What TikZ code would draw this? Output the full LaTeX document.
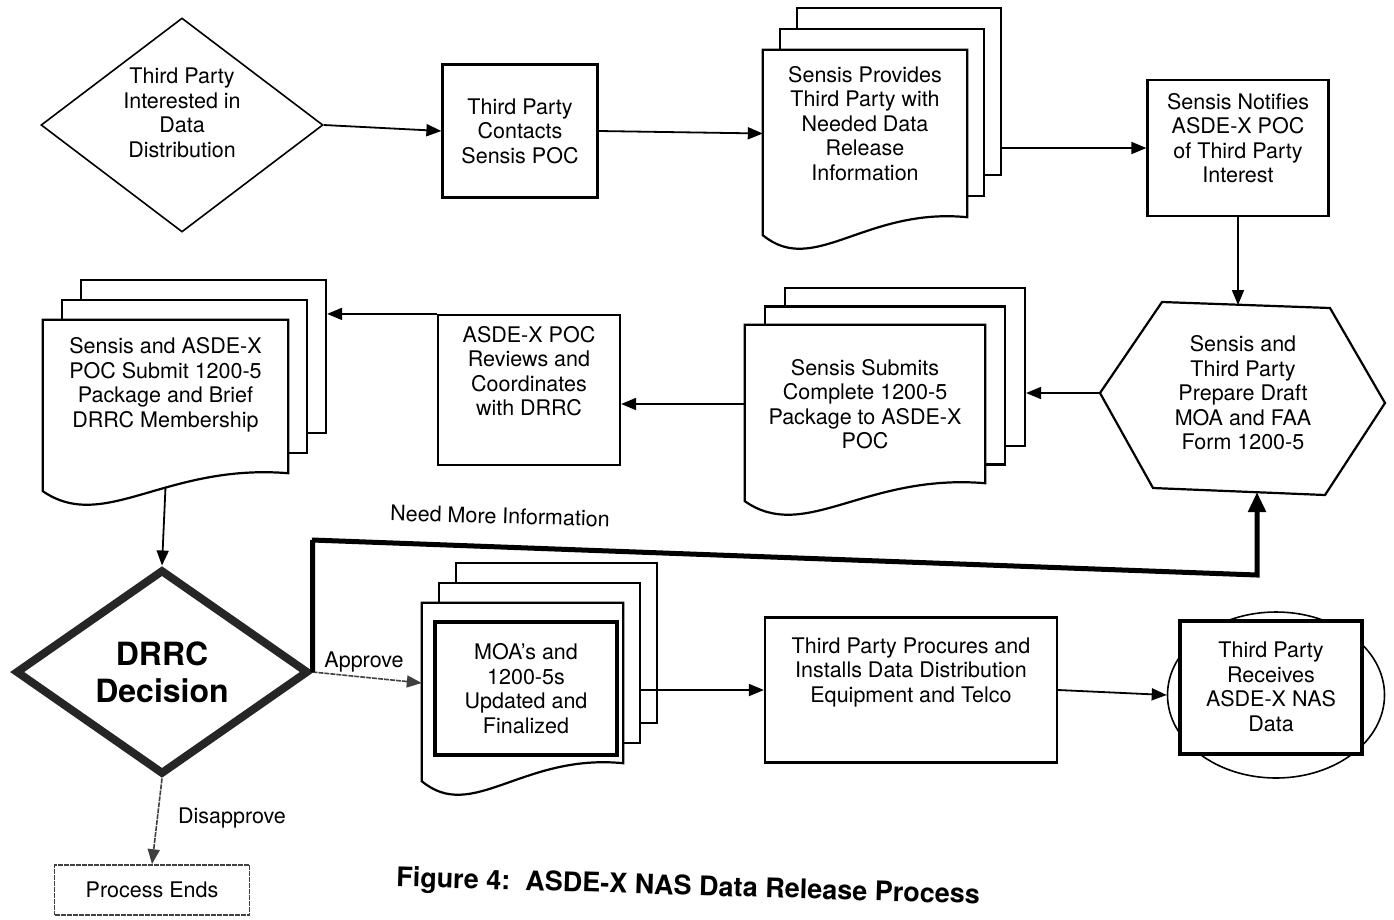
\documentclass[tikz,border=0pt]{standalone}
\usepackage{fontspec}
\setmainfont{TeX Gyre Heros}
\usetikzlibrary{arrows.meta,calc,backgrounds,shapes.geometric}

% stack of three sheets: name, centre, width, height, text, shift of the sheets behind
\newcommand{\docstack}[6]{%
  \node[doctext, minimum width=#3, minimum height=#4] (#1) at #2 {#5};
  \begin{scope}[on background layer]
    \foreach \k in {2,1}
      \node[sheet, minimum width=#3, minimum height=#4] (#1-\k) at ($(#1)+\k*(#6)$) {};
    \filldraw[sheet] ($(#1.south west)+(0,18)$) -- (#1.north west) -- (#1.north east) -- (#1.south east)
      .. controls ($(#1.south west)!0.5!(#1.south east)+(0,-10)$) and ($(#1.south west)!0.25!(#1.south east)+(0,60)$) .. ($(#1.south west)+(0,18)$) -- cycle;
  \end{scope}
}

\begin{document}
\begin{tikzpicture}[x=1pt, y=-1pt,
  font=\fontsize{21.5}{24.5}\selectfont,
  box/.style={draw, line width=2.2pt, align=center, inner sep=2pt},
  doctext/.style={align=center, inner sep=0pt},
  sheet/.style={draw, fill=white, line width=2.2pt},
  arr/.style={line width=1.8pt, -{Triangle[length=15pt,width=12pt]}},
  rough/.style={draw=black!75, line width=1.6pt, dash pattern=on 5pt off 1pt},
  lbl/.style={inner sep=0pt},
  start/.style={diamond, draw, line width=1.6pt, aspect=1.32, inner sep=0pt,
    minimum width=282, minimum height=214, align=center},
  decision/.style={diamond, draw=black!85, line width=8pt, aspect=1.43, inner sep=0pt,
    minimum width=293, minimum height=205, align=center, font=\fontsize{32}{37}\selectfont\bfseries}]
  \useasboundingbox (0,0) rectangle (1394,919);

  % top row
  \node[start] (interest) at (182,125) {Third Party\\Interested in\\Data\\Distribution\\\mbox{}};
  \node[box, minimum width=155, minimum height=133] (contacts) at (520,131) {Third Party\\Contacts\\Sensis POC};
  \docstack{provides}{(865,133.5)}{204}{167}{Sensis Provides\\Third Party with\\Needed Data\\Release\\Information\\[-4pt]\mbox{}}{17,-21}
  \node[box, minimum width=181, minimum height=136] (notifies) at (1238,148) {Sensis Notifies\\ASDE-X POC\\of Third Party\\Interest\\[-4pt]\mbox{}};

  % middle row
  \draw[line width=2.2pt] (1162,302) -- (1330,308) -- (1385,403) -- (1325,495) -- (1153,488) -- (1100,393) -- cycle;
  \node[doctext] (prepare) at (1243,393) {Sensis and\\Third Party\\Prepare Draft\\MOA and FAA\\Form 1200-5};
  \coordinate (prepare-n) at (1238,305);
  \coordinate (prepare-w) at (1100,393);
  \coordinate (prepare-s) at (1257,492);
  \docstack{submits}{(865,404)}{240}{158}{Sensis Submits\\Complete 1200-5\\Package to ASDE-X\\POC}{20,-18.5}
  \node[box, minimum width=182, minimum height=150] (reviews) at (529,390) {ASDE-X POC\\Reviews and\\Coordinates\\with DRRC\\[14pt]\mbox{}};
  \docstack{brief}{(165.5,396.5)}{245}{153}{Sensis and ASDE-X\\POC Submit 1200-5\\Package and Brief\\DRRC Membership\\[4pt]\mbox{}}{19,-20}

  % bottom row
  \node[decision] (drrc) at (162,672) {DRRC\\Decision};
  \node[box, rough, minimum width=195, minimum height=50] (ends) at (152,890) {Process Ends};
  \docstack{moa}{(522.5,683)}{201}{160}{}{17,-20}
  \node[box, line width=4pt, minimum width=182, minimum height=133] (moabox) at (526,688.5) {MOA's and\\1200-5s\\Updated and\\Finalized};
  \node[box, minimum width=292, minimum height=145] (procures) at (911,690) {Third Party Procures and\\Installs Data Distribution\\Equipment and Telco\\[16pt]\mbox{}};
  \node[ellipse, draw, line width=1.6pt, minimum width=217, minimum height=166] (receives) at (1276,695) {};
  \node[box, fill=white, line width=4pt, minimum width=182, minimum height=133] (recvbox) at (1271,687) {Third Party\\Receives\\ASDE-X NAS\\Data};

  \coordinate (loopa) at (312,540);
  \coordinate (loopb) at (1257,575);

  % connectors
  \draw[arr] (interest.east) -- (contacts.west);
  \draw[arr] (contacts.east) -- (provides.west);
  \draw[arr] (provides-2.east |- notifies.west) -- (notifies.west);
  \draw[arr] (notifies.south) -- (prepare-n);
  \draw[arr] (prepare-w) -- (submits-2.east |- prepare-w);
  \draw[arr] (submits.west) -- (submits.west -| reviews.east);
  \draw[arr] (reviews.north west) -- (brief-2.east |- reviews.north west);
  \draw[arr] ([yshift=-14pt]brief.south) -- (drrc.north);
  \draw[arr, rough] (drrc.east) -- (moa.west);
  \draw[arr, rough] (drrc.south) -- (ends.north);
  \draw[line width=5pt, -{Triangle[length=20pt,width=17pt]}] (drrc.east) |- (loopa) -- (loopb) -- (prepare-s);
  \draw[arr] (moa-1.east |- procures.west) -- (procures.west);
  \draw[arr] (procures.east) -- (receives.west);

  % labels
  \node[lbl, rotate=-1.6] (needinfo) at (500,516) {Need More Information};
  \node[lbl] (approve) at (364,662) {Approve};
  \node[lbl] (disapprove) at (232,818) {Disapprove};
  \node[lbl, font=\fontsize{27}{31}\selectfont\bfseries, rotate=-1.7] (caption) at (688,888) {Figure 4:\ \ ASDE-X NAS Data Release Process};
\end{tikzpicture}
\end{document}
